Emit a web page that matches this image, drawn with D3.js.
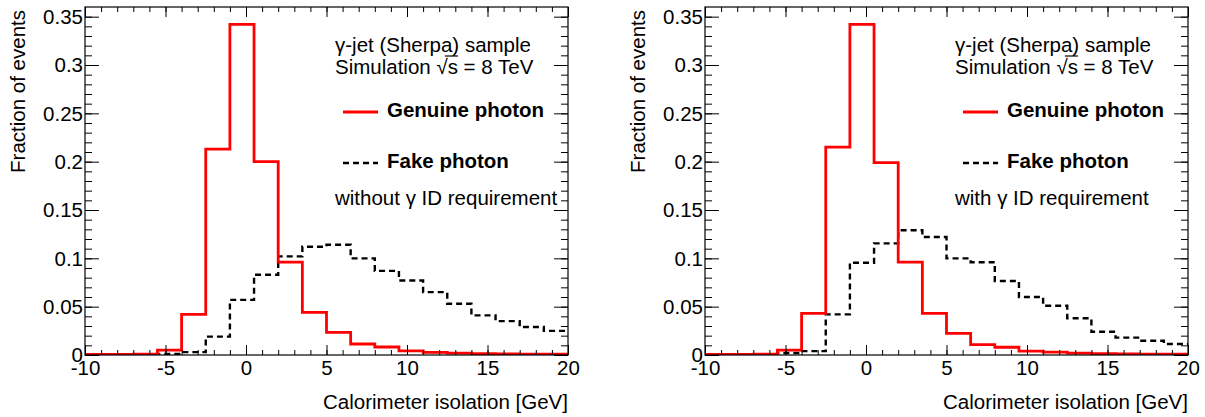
<!DOCTYPE html>
<html lang="en">
<head>
<meta charset="UTF-8">
<title>Calorimeter isolation</title>
<script src="https://cdn.jsdelivr.net/npm/d3@7"></script>
<style>
  body { margin: 0; background: #fff; }
  svg { display: block; font-family: "Liberation Sans", Arial, sans-serif; }
</style>
</head>
<body>
<div id="root"></div>
<script>
// bin edges: -10 .. 20 in 1.5 GeV steps
const binEdges = d3.range(0, 21).map(i => -10 + i * 1.5);

// left panel: without photon ID
const genuineNoId = [0.0005, 0.0005, 0.001, 0.005, 0.042, 0.213, 0.342, 0.200, 0.096, 0.044,
                     0.0235, 0.0114, 0.0083, 0.0042, 0.0028, 0.002, 0.0015, 0.0012, 0.001, 0.001];
const fakeNoId    = [0.0003, 0.0003, 0.0003, 0.001, 0.003, 0.019, 0.057, 0.083, 0.102, 0.112,
                     0.114, 0.100, 0.087, 0.077, 0.065, 0.053, 0.041, 0.035, 0.029, 0.025];
// right panel: with photon ID
const genuineId   = [0.0005, 0.0005, 0.001, 0.005, 0.043, 0.215, 0.342, 0.199, 0.096, 0.043,
                     0.0224, 0.0107, 0.008, 0.004, 0.003, 0.002, 0.0015, 0.0012, 0.001, 0.001];
const fakeId      = [0.0003, 0.0003, 0.0003, 0.002, 0.004, 0.042, 0.0955, 0.1155, 0.129, 0.122,
                     0.100, 0.096, 0.0765, 0.060, 0.051, 0.038, 0.024, 0.018, 0.0148, 0.0114];

const xTicks = [-10, -5, 0, 5, 10, 15, 20];
const xTickLabels = ['-10', '-5', '0', '5', '10', '15', '20'];
const yTicks = [0, 0.05, 0.1, 0.15, 0.2, 0.25, 0.3, 0.35];
const yTickLabels = ['0', '0.05', '0.1', '0.15', '0.2', '0.25', '0.3', '0.35'];

const panels = [
  { left: 85, genuine: genuineNoId, fake: fakeNoId, note: 'without \u03b3 ID requirement' },
  { left: 705, genuine: genuineId, fake: fakeId, note: 'with \u03b3 ID requirement' }
];

const W = 1205, H = 417;
const frameW = 483, frameTop = 7, frameBottom = 355;
const font = 20.5;

const svg = d3.select('#root').append('svg')
  .attr('width', W).attr('height', H);

panels.forEach((p, pi) => {
  const x = d3.scaleLinear().domain([-10, 20]).range([p.left, p.left + frameW]);
  const y = d3.scaleLinear().domain([0, 0.36]).range([frameBottom, frameTop]);
  const g = svg.append('g');

  g.append('clipPath').attr('id', 'clip' + pi)
    .append('rect')
    .attr('x', p.left).attr('y', frameTop)
    .attr('width', frameW).attr('height', frameBottom - frameTop);

  // histograms as step lines
  const step = d3.line()
    .x(d => x(d[0])).y(d => y(d[1]))
    .curve(d3.curveStepAfter);
  const pts = vals => {
    const a = vals.map((v, i) => [binEdges[i], v]);
    a.push([binEdges[vals.length], vals[vals.length - 1]]);
    return a;
  };

  const hg = g.append('g').attr('clip-path', `url(#clip${pi})`);
  hg.append('path')
    .attr('d', step(pts(p.fake)))
    .attr('fill', 'none').attr('stroke', '#000')
    .attr('stroke-width', 2.4).attr('stroke-dasharray', '6,4');
  hg.append('path')
    .attr('d', step(pts(p.genuine)))
    .attr('fill', 'none').attr('stroke', '#ff0000')
    .attr('stroke-width', 2.8);

  // axes (ticks inward, both sides)
  const xMinor = d3.range(-10, 20.01, 1);
  const yMinor = d3.range(0, 36).map(i => i * 0.01);

  const styleAxis = sel => {
    sel.select('.domain').remove();
    sel.selectAll('line').attr('stroke', '#000').attr('stroke-width', 1);
    sel.selectAll('text').attr('font-size', font).attr('fill', '#000')
      .attr('font-family', '"Liberation Sans", Arial, sans-serif');
  };

  g.append('g').attr('transform', `translate(0,${frameBottom})`)
    .call(d3.axisBottom(x).tickValues(xMinor).tickSize(-5).tickFormat(''))
    .call(styleAxis);
  g.append('g').attr('transform', `translate(0,${frameBottom})`)
    .call(d3.axisBottom(x).tickValues(xTicks).tickSize(-10)
      .tickFormat((d, i) => xTickLabels[i]))
    .call(styleAxis)
    .call(a => a.selectAll('text').attr('y', 20).attr('dy', null));
  g.append('g').attr('transform', `translate(0,${frameTop})`)
    .call(d3.axisTop(x).tickValues(xMinor).tickSize(-5).tickFormat(''))
    .call(styleAxis);
  g.append('g').attr('transform', `translate(0,${frameTop})`)
    .call(d3.axisTop(x).tickValues(xTicks).tickSize(-10).tickFormat(''))
    .call(styleAxis);

  g.append('g').attr('transform', `translate(${p.left},0)`)
    .call(d3.axisLeft(y).tickValues(yMinor).tickSize(-7).tickFormat(''))
    .call(styleAxis);
  g.append('g').attr('transform', `translate(${p.left},0)`)
    .call(d3.axisLeft(y).tickValues(yTicks).tickSize(-14)
      .tickFormat((d, i) => yTickLabels[i]))
    .call(styleAxis)
    .call(a => a.selectAll('text').attr('x', -2).attr('dy', '0.34em'));
  g.append('g').attr('transform', `translate(${p.left + frameW},0)`)
    .call(d3.axisRight(y).tickValues(yMinor).tickSize(-7).tickFormat(''))
    .call(styleAxis);
  g.append('g').attr('transform', `translate(${p.left + frameW},0)`)
    .call(d3.axisRight(y).tickValues(yTicks).tickSize(-14).tickFormat(''))
    .call(styleAxis);

  // frame
  g.append('rect')
    .attr('x', p.left).attr('y', frameTop)
    .attr('width', frameW).attr('height', frameBottom - frameTop)
    .attr('fill', 'none').attr('stroke', '#000').attr('stroke-width', 1.2);

  // axis titles
  g.append('text')
    .attr('x', p.left + frameW).attr('y', 409)
    .attr('text-anchor', 'end').attr('font-size', font)
    .text('Calorimeter isolation [GeV]');
  g.append('text')
    .attr('transform', `translate(${p.left - 60},${frameTop + 3}) rotate(-90)`)
    .attr('text-anchor', 'end').attr('font-size', font)
    .text('Fraction of events');

  // labels and legend
  const lx = p.left + 250;
  g.append('text').attr('x', lx).attr('y', 52).attr('font-size', font)
    .text('\u03b3-jet (Sherpa) sample');
  const simStr = 'Simulation \u221as = 8 TeV';
  const sim = g.append('text').attr('x', lx).attr('y', 74).attr('font-size', font)
    .text(simStr);
  // radical overline over the "s"
  const rIdx = simStr.indexOf('\u221a');
  const node = sim.node();
  const rx0 = lx + node.getSubStringLength(0, rIdx) + node.getSubStringLength(rIdx, 1) * 0.75;
  const rx1 = lx + node.getSubStringLength(0, rIdx + 2);
  g.append('line')
    .attr('x1', rx0).attr('x2', rx1).attr('y1', 56).attr('y2', 56)
    .attr('stroke', '#000').attr('stroke-width', 1.2);

  g.append('line')
    .attr('x1', p.left + 258).attr('x2', p.left + 293)
    .attr('y1', 112).attr('y2', 112)
    .attr('stroke', '#ff0000').attr('stroke-width', 2.8);
  g.append('text').attr('x', p.left + 302).attr('y', 117)
    .attr('font-size', font).attr('font-weight', 'bold')
    .text('Genuine photon');

  g.append('line')
    .attr('x1', p.left + 258).attr('x2', p.left + 293)
    .attr('y1', 163).attr('y2', 163)
    .attr('stroke', '#000').attr('stroke-width', 2.4).attr('stroke-dasharray', '6,4');
  g.append('text').attr('x', p.left + 302).attr('y', 168)
    .attr('font-size', font).attr('font-weight', 'bold')
    .text('Fake photon');

  g.append('text').attr('x', lx).attr('y', 205).attr('font-size', font)
    .text(p.note);
});
</script>
</body>
</html>
